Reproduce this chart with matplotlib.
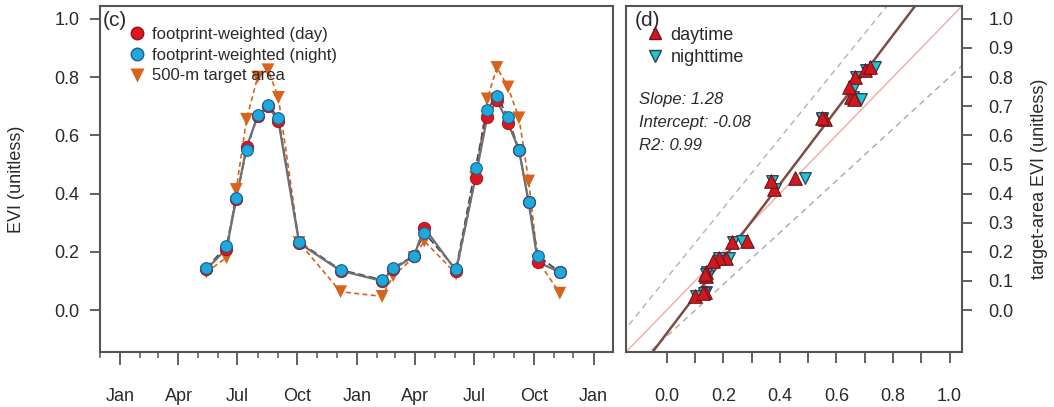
import matplotlib
matplotlib.use('Agg')
import matplotlib.pyplot as plt
import matplotlib.dates as mdates
from matplotlib.lines import Line2D
import numpy as np
import pandas as pd

plt.rcParams['font.family'] = ['Liberation Sans', 'DejaVu Sans']

# ---------------- data ----------------
dates = ['2013-05-14', '2013-06-14', '2013-06-29', '2013-07-15', '2013-08-01',
         '2013-08-17', '2013-09-02', '2013-10-04', '2013-12-07', '2014-02-09',
         '2014-02-26', '2014-03-30', '2014-04-15', '2014-06-03', '2014-07-03',
         '2014-07-21', '2014-08-05', '2014-08-22', '2014-09-08', '2014-09-23',
         '2014-10-07', '2014-11-10']
evi_day = [0.14, 0.21, 0.38, 0.56, 0.665, 0.70, 0.65, 0.23, 0.135, 0.10, 0.14,
           0.185, 0.283, 0.135, 0.455, 0.663, 0.72, 0.643, 0.55, 0.37, 0.165, 0.13]
evi_night = [0.143, 0.22, 0.384, 0.55, 0.67, 0.705, 0.66, 0.234, 0.138, 0.104, 0.145,
             0.186, 0.266, 0.14, 0.489, 0.688, 0.736, 0.663, 0.549, 0.371, 0.186, 0.131]
evi_target = [0.13, 0.18, 0.414, 0.655, 0.80, 0.825, 0.73, 0.232, 0.063, 0.047, 0.118,
              0.18, 0.237, 0.125, 0.455, 0.725, 0.833, 0.766, 0.66, 0.443, 0.17, 0.058]
legend_c = ['footprint-weighted (day)', 'footprint-weighted (night)', '500-m target area']
legend_d = ['daytime', 'nighttime']
slope, intercept, r2 = 1.28, -0.08, 0.99
upper_env = (1.2, 0.11)    # dashed envelope lines (slope, intercept)
lower_env = (0.89, -0.09)

# ---------------- styles ----------------
C_DAY = '#e0141c'
C_NIGHT = '#1fa8dc'
C_TGT = '#d8631c'
C_AX = '#555555'
C_TXT = '#2a2a2a'

W, H = 1054, 407
fig = plt.figure(figsize=(W / 100, H / 100), dpi=100)
ax1 = fig.add_axes([100 / W, 1 - 352 / H, 513 / W, 346 / H])
ax2 = fig.add_axes([626 / W, 1 - 352 / H, 336 / W, 346 / H])

for ax in (ax1, ax2):
    for s in ax.spines.values():
        s.set_color(C_AX)
        s.set_linewidth(1.5)

# ---------------- panel (c) ----------------
d = pd.to_datetime(dates)
ax1.plot(d, evi_target, ls=(0, (3, 2)), color=C_TGT, lw=1.2, zorder=2)
ax1.plot(d, evi_night, ls=(0, (4, 2)), color='#3c4c5c', lw=1.3, zorder=2)
ax1.plot(d, evi_day, ls='-', color='#707070', lw=1.6, zorder=2)
ax1.scatter(d, evi_target, marker='v', s=85, color=C_TGT, edgecolor='none', zorder=3)
ax1.scatter(d, evi_day, marker='o', s=80, color=C_DAY, edgecolor='#9a1018', lw=0.6, zorder=4)
ax1.scatter(d, evi_night, marker='o', s=70, color=C_NIGHT, edgecolor='#1a5f90', lw=0.8, zorder=5)

ax1.set_xlim(pd.Timestamp('2012-12-01'), pd.Timestamp('2015-01-31'))
ax1.set_ylim(-0.144, 1.044)
ax1.set_yticks(np.arange(0, 1.01, 0.2))
ax1.yaxis.set_major_formatter(matplotlib.ticker.FormatStrFormatter('%.1f'))
ax1.xaxis.set_major_locator(mdates.MonthLocator(bymonth=[1, 4, 7, 10]))
ax1.xaxis.set_minor_locator(mdates.MonthLocator())
ax1.xaxis.set_major_formatter(mdates.DateFormatter('%b'))
ax1.tick_params(axis='y', length=7, width=1.3, color=C_AX, pad=8, labelsize=13, labelcolor=C_TXT)
ax1.tick_params(axis='x', which='major', length=9, width=1.3, color=C_AX, pad=17,
                labelsize=13, labelcolor=C_TXT)
ax1.tick_params(axis='x', which='minor', length=4, width=1.1, color=C_AX)
ax1.set_ylabel('EVI (unitless)', fontsize=13, color=C_TXT)
ax1.yaxis.set_label_coords(-0.146, 0.5)

ax1.text(0.006, 0.985, '(c)', transform=ax1.transAxes, fontsize=15, va='top', ha='left',
         color=C_TXT)
h_c = [Line2D([], [], ls='none', marker='o', ms=9, color=C_DAY, mec='#9a1018'),
       Line2D([], [], ls='none', marker='o', ms=9, color=C_NIGHT, mec='#1a5f90'),
       Line2D([], [], ls='none', marker='v', ms=10, color=C_TGT, mec='none')]
ax1.legend(h_c, legend_c, loc='upper left', bbox_to_anchor=(0.055, 0.94), frameon=False,
           fontsize=12, handlelength=1.0, handletextpad=0.4, borderpad=0, labelspacing=0.35,
           borderaxespad=0, labelcolor=C_TXT)

# ---------------- panel (d) ----------------
xs = np.array([-0.3, 1.2])
ax2.plot(xs, upper_env[0] * xs + upper_env[1], ls=(0, (4, 3)), color='#b8b8b8', lw=1.1, zorder=1)
ax2.plot(xs, lower_env[0] * xs + lower_env[1], ls=(0, (4, 3)), color='#b0b0b0', lw=1.1, zorder=1)
ax2.plot(xs, xs, color='#f2b0b0', lw=1.1, zorder=1)
ax2.plot(xs, slope * xs + intercept, color='#7a4e46', lw=1.8, zorder=2)
ax2.scatter(evi_night, evi_target, marker='v', s=70, color='#20c4d4', edgecolor='#2f3f4f',
            lw=0.9, zorder=3)
ax2.scatter(evi_day, evi_target, marker='^', s=95, color='#d01820', edgecolor='#701418',
            lw=0.8, zorder=4)

ax2.set_xlim(-0.144, 1.044)
ax2.set_ylim(-0.144, 1.044)
ax2.yaxis.tick_right()
ax2.yaxis.set_label_position('right')
ax2.set_yticks(np.round(np.arange(0, 1.01, 0.1), 1))
ax2.yaxis.set_major_formatter(matplotlib.ticker.FormatStrFormatter('%.1f'))
xt = np.round(np.arange(0, 1.01, 0.1), 1)
ax2.set_xticks(xt)
ax2.set_xticklabels([f'{v:.1f}' if i % 2 == 0 else '' for i, v in enumerate(xt)])
ax2.tick_params(axis='y', length=7, width=1.3, color=C_AX, pad=12, labelsize=13, labelcolor=C_TXT)
ax2.tick_params(axis='x', length=8, width=1.3, color=C_AX, pad=18, labelsize=13, labelcolor=C_TXT)
ax2.set_ylabel('target-area EVI (unitless)', fontsize=13, color=C_TXT, rotation=90)
ax2.yaxis.set_label_coords(1.205, 0.5)

ax2.text(0.025, 0.985, '(d)', transform=ax2.transAxes, fontsize=15, va='top', ha='left',
         color=C_TXT)
h_d = [Line2D([], [], ls='none', marker='^', ms=8, color='#d01820', mec='#701418'),
       Line2D([], [], ls='none', marker='v', ms=8, color='#20c4d4', mec='#2f3f4f')]
ax2.legend(h_d, legend_d, loc='upper left', bbox_to_anchor=(0.06, 0.94), frameon=False,
           fontsize=13, handlelength=1.0, handletextpad=0.35, borderpad=0, labelspacing=0.3,
           borderaxespad=0, labelcolor=C_TXT)
stats = [f'Slope: {slope:.2f}', f'Intercept: {intercept:.2f}', f'R2: {r2:.2f}']
for i, s in enumerate(stats):
    ax2.text(0.039, 0.731 - i * 0.067, s, transform=ax2.transAxes, fontsize=12,
             style='italic', va='center', ha='left', color=C_TXT)

fig.savefig('out.png', dpi=100)
